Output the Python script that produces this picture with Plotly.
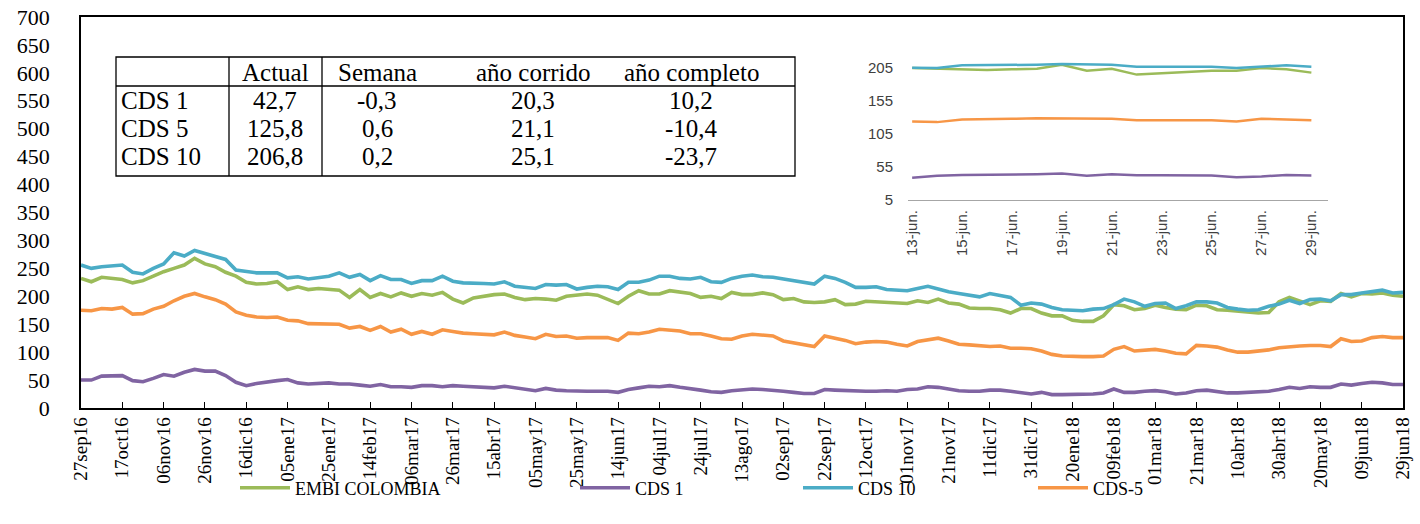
import pandas as pd
import plotly.graph_objects as go

# ---------------- data ----------------
start_date = "2016-09-27"
n_points = 129  # one reading every 5 days
dates = pd.date_range(start_date, periods=n_points, freq="5D")

embi = [232, 226, 234, 232, 230, 224, 228, 236, 244, 250, 256, 268, 258, 253, 243, 236, 225, 222, 223, 226,
        212, 217, 212, 214, 212, 211, 198, 212, 198, 205, 199, 206, 200,
        205, 202, 207, 195, 188, 197, 200, 203, 204, 198, 194, 196, 195, 193, 200, 202, 204, 202, 195, 187,
        200, 210, 204, 204, 210, 207, 205, 198, 200, 196, 207, 203, 203,
        206, 203, 194, 196, 190, 189, 190, 194, 185, 186, 191, 190, 189, 188, 187, 192, 189, 195, 188, 186,
        179, 178, 178, 176, 170, 178, 178, 170, 165, 165, 157, 155,
        155, 165, 185, 183, 176, 178, 184, 180, 177, 176, 184, 183, 176, 175, 173, 171, 170, 171, 190, 198,
        192, 185, 192, 191, 205, 199, 205, 204, 206, 202, 200]

cds1 = [50, 50, 57, 58, 58, 49, 47, 53, 60, 57, 64, 69, 66, 66, 58, 46, 40, 44, 47, 49,
        51, 45, 43, 44, 45, 43, 43, 41, 39, 42, 38, 38, 37,
        40, 40, 38, 40, 39, 38, 37, 36, 39, 36, 33, 31, 35, 32, 31, 30, 30, 30, 30, 28,
        33, 36, 39, 38, 40, 37, 35, 32, 29, 28, 31, 33, 34,
        33, 32, 30, 28, 26, 26, 33, 32, 31, 31, 30, 30, 31, 30, 33, 34, 38, 37, 34, 31,
        30, 30, 32, 32, 30, 28, 25, 28, 24, 24, 24, 24,
        25, 27, 34, 28, 28, 30, 31, 29, 25, 27, 31, 32, 30, 27, 27, 28, 28, 30, 33, 37,
        35, 38, 37, 37, 43, 41, 44, 46, 45, 42, 42]

cds10 = [256, 250, 253, 254, 256, 243, 240, 250, 258, 278, 272, 282, 277, 272, 266, 247, 244, 242, 242, 242,
         233, 235, 231, 233, 236, 242, 234, 239, 228, 237, 230, 230, 223,
         228, 228, 236, 227, 224, 224, 223, 222, 226, 218, 216, 214, 221, 220, 221, 213, 216, 218, 217, 212,
         225, 225, 229, 236, 236, 232, 231, 234, 226, 225, 232, 236, 238,
         235, 234, 231, 227, 224, 222, 236, 232, 225, 216, 216, 217, 212, 211, 210, 214, 218, 213, 208, 205,
         202, 199, 205, 201, 198, 184, 188, 186, 180, 176, 175, 174,
         177, 178, 185, 195, 190, 182, 187, 188, 178, 183, 190, 190, 188, 180, 177, 175, 176, 182, 186, 193,
         187, 194, 195, 192, 203, 203, 206, 208, 211, 206, 207]

cds5 = [175, 174, 178, 177, 180, 168, 169, 177, 182, 192, 200, 205, 199, 194, 186, 172, 166, 163, 162, 163,
        157, 156, 151, 151, 151, 150, 143, 146, 139, 146, 136, 141, 132,
        137, 132, 140, 137, 134, 133, 132, 131, 136, 130, 127, 124, 132, 128, 129, 125, 126, 126, 126, 121,
        134, 133, 136, 141, 140, 138, 133, 133, 129, 124, 123, 129, 132,
        130, 129, 120, 117, 113, 110, 129, 125, 121, 115, 118, 119, 118, 114, 111, 119, 122, 125, 120, 114,
        113, 111, 110, 111, 107, 107, 106, 102, 96, 93, 92, 92,
        92, 93, 105, 110, 102, 103, 105, 102, 98, 97, 112, 111, 109, 104, 100, 100, 102, 104, 108, 110,
        111, 112, 112, 110, 124, 119, 120, 126, 128, 126, 126]

tick_dates = pd.date_range(start_date, periods=33, freq="20D")
tick_labels = ["27sep16", "17oct16", "06nov16", "26nov16", "16dic16", "05ene17", "25ene17", "14feb17",
               "06mar17", "26mar17", "15abr17", "05may17", "25may17", "14jun17", "04jul17", "24jul17",
               "13ago17", "02sep17", "22sep17", "12oct17", "01nov17", "21nov17", "11dic17", "31dic17",
               "20ene18", "09feb18", "01mar18", "21mar18", "10abr18", "30abr18", "20may18", "09jun18",
               "29jun18"]

# inset (last days of June 2018)
inset_dates = pd.date_range("2018-06-13", "2018-06-29", freq="D")
inset_embi = [205, 204, 202, 202, 203, 204, 210, 201, 204, 195, 197, 199, 201, 201, 205, 203, 198]
inset_cds1 = [38.6, 41.6, 43, 43, 43.5, 44, 45, 41.6, 44, 42.6, 42.6, 42, 42, 39.6, 40.6, 43, 42.3]
inset_cds10 = [205.5, 205, 209, 209, 209.5, 210, 211, 210.5, 210, 207, 207, 207, 207, 205, 207, 209, 207]
inset_cds5 = [124, 123, 127, 127, 128, 129, 129, 129, 128, 126, 126, 126, 126, 124, 128, 127, 126]
inset_ticks = ["2018-06-13", "2018-06-15", "2018-06-17", "2018-06-19", "2018-06-21",
               "2018-06-23", "2018-06-25", "2018-06-27", "2018-06-29"]
inset_tick_labels = ["13-jun.", "15-jun.", "17-jun.", "19-jun.", "21-jun.",
                     "23-jun.", "25-jun.", "27-jun.", "29-jun."]
inset_yticks = [5, 55, 105, 155, 205]

# summary table
table_header = ["", "Actual", "Semana", "año corrido", "año completo"]
table_rows = ["CDS 1", "CDS 5", "CDS 10"]
actual = [42.7, 125.8, 206.8]
semana = [-0.3, 0.6, 0.2]
ano_corrido = [20.3, 21.1, 25.1]
ano_completo = [10.2, -10.4, -23.7]

series_names = ["EMBI COLOMBIA", "CDS 1", "CDS 10", "CDS-5"]
colors = ["#9BBB59", "#8064A2", "#4BACC6", "#F79646"]

# ---------------- figure ----------------
W, H = 1420, 524
# plot-area edges in pixels
L, R, T, B = 81, 1403, 17, 408


def px_x(px):
    """pixel x -> paper fraction"""
    return (px - L) / (R - L)


def px_y(py):
    """pixel y -> paper fraction"""
    return (B - py) / (B - T)


SERIF = "Liberation Serif, Times New Roman, serif"
SANS = "Liberation Sans, Arial, sans-serif"

fig = go.Figure()
main_series = [embi, cds1, cds10, cds5]
legend_ids = ["legend", "legend2", "legend3", "legend4"]
for name, vals, col, lg in zip(series_names, main_series, colors, legend_ids):
    fig.add_trace(go.Scatter(x=dates, y=vals, name=name, mode="lines",
                             line=dict(color=col, width=3.6), legend=lg))

inset_series = [inset_embi, inset_cds1, inset_cds10, inset_cds5]
for name, vals, col in zip(series_names, inset_series, colors):
    fig.add_trace(go.Scatter(x=inset_dates, y=vals, name=name, mode="lines",
                             line=dict(color=col, width=2.5), xaxis="x2", yaxis="y2",
                             showlegend=False))

legend_common = dict(orientation="h", yanchor="middle", xanchor="left", yref="container",
                     y=(H - 488) / H,
                     font=dict(family=SERIF, size=18, color="black"),
                     bgcolor="rgba(0,0,0,0)", itemwidth=50)
legend_left = [235, 575, 798, 1033]

layout = dict(
    width=W, height=H,
    margin=dict(l=L, r=W - R, t=T, b=H - B, pad=0, autoexpand=False),
    paper_bgcolor="white", plot_bgcolor="white",
    showlegend=True,
    xaxis=dict(type="date", range=[dates[0], dates[-1]], tickvals=list(tick_dates), ticktext=tick_labels,
               tickangle=-90, ticks="inside", ticklen=6, tickcolor="black", tickwidth=1.2,
               showline=True, linecolor="black", linewidth=1.5, mirror=True, showgrid=False,
               zeroline=False, automargin=False, ticklabeloverflow="allow",
               tickfont=dict(family=SERIF, size=19, color="black")),
    yaxis=dict(range=[0, 700], dtick=50, tick0=0, showline=True, linecolor="black", linewidth=1.5,
               mirror=True, showgrid=False, zeroline=False, ticks="", ticklabelstandoff=25,
               automargin=False, ticklabeloverflow="allow",
               tickfont=dict(family=SERIF, size=22, color="black")),
    xaxis2=dict(type="date", domain=[px_x(908), px_x(1328)],
                range=["2018-06-12 20:00", "2018-06-29 16:00"], anchor="y2",
                tickvals=inset_ticks, ticktext=inset_tick_labels, tickangle=-90, ticks="",
                showline=True, linecolor="#A6A6A6", linewidth=1.2, showgrid=False, zeroline=False,
                automargin=False, ticklabelstandoff=3,
                tickfont=dict(family=SANS, size=15, color="#404040")),
    yaxis2=dict(domain=[px_y(200), px_y(52)], range=[5, 5 + (200 - 52) / 0.66], anchor="x2",
                tickvals=inset_yticks, showline=False, showgrid=False, zeroline=False, ticks="",
                automargin=False, ticklabelstandoff=14,
                tickfont=dict(family=SANS, size=15, color="#404040")),
)
for lg, lx in zip(legend_ids, legend_left):
    layout[lg] = dict(legend_common, x=px_x(lx))
fig.update_layout(**layout)

# table drawing (pixel positions)
tx0, tx1, ty0, ty1 = 116, 795, 57, 176
header_line_y = 86
col_lines = [229, 322]
shapes = [dict(type="rect", xref="paper", yref="paper", x0=px_x(tx0), x1=px_x(tx1),
               y0=px_y(ty1), y1=px_y(ty0), line=dict(color="black", width=1.3))]
shapes.append(dict(type="line", xref="paper", yref="paper", x0=px_x(tx0), x1=px_x(tx1),
                   y0=px_y(header_line_y), y1=px_y(header_line_y), line=dict(color="black", width=1.3)))
for cx in col_lines:
    shapes.append(dict(type="line", xref="paper", yref="paper", x0=px_x(cx), x1=px_x(cx),
                       y0=px_y(ty1), y1=px_y(ty0), line=dict(color="black", width=1.3)))
fig.update_layout(shapes=shapes)


def fmt(v):
    return f"{v:.1f}".replace(".", ",")


col_centers = [None, 275, 377, 533, 691]
row_y = [72, 100, 128, 156]
ann = []
tfont = dict(family=SERIF, size=25, color="black")
for j, h in enumerate(table_header):
    if h:
        ann.append(dict(x=px_x(col_centers[j]), y=px_y(row_y[0]), xref="paper", yref="paper", text=h,
                        showarrow=False, xanchor="center", yanchor="middle", font=tfont))
columns = [actual, semana, ano_corrido, ano_completo]
for i, rname in enumerate(table_rows):
    ann.append(dict(x=px_x(119), y=px_y(row_y[i + 1]), xref="paper", yref="paper", text=rname,
                    showarrow=False, xanchor="left", yanchor="middle", font=tfont))
    for j, col in enumerate(columns):
        ann.append(dict(x=px_x(col_centers[j + 1]), y=px_y(row_y[i + 1]), xref="paper", yref="paper",
                        text=fmt(col[i]), showarrow=False, xanchor="center", yanchor="middle", font=tfont))
fig.update_layout(annotations=ann)

# remove the browser's default page margin so the figure fills the window exactly
fig.write_html("out.html", config={"displayModeBar": False},
               post_script="document.body.style.margin='0';document.body.style.overflow='hidden';")
